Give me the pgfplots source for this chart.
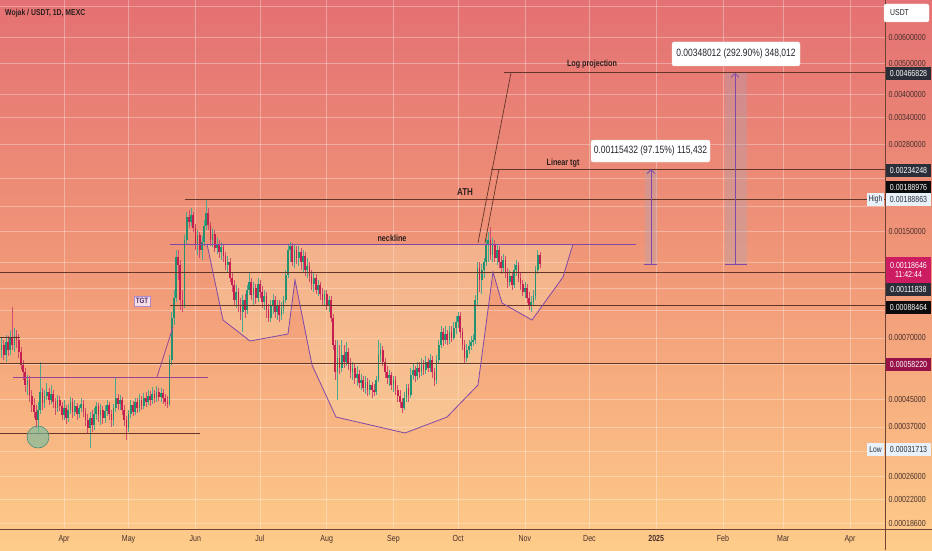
\documentclass[border=0pt]{standalone}
\usepackage{fontspec}
\setmainfont{Liberation Sans}
\usepackage{graphicx}
\usepackage{pgfplots}
\usepackage{pgfplotstable}
\pgfplotsset{compat=1.18}
\usetikzlibrary{arrows.meta,backgrounds}

\definecolor{bgtop}{RGB}{228,113,115}
\definecolor{bgmid}{RGB}{241,153,120}
\definecolor{bgbot}{RGB}{254,204,138}
\definecolor{upc}{RGB}{34,146,112}
\definecolor{dnc}{RGB}{198,30,78}
\definecolor{lvl}{RGB}{100,54,42}
\definecolor{purp}{RGB}{128,72,168}
\definecolor{purp2}{RGB}{150,70,150}
\definecolor{axtxt}{RGB}{72,48,44}
\definecolor{anntxt}{RGB}{45,30,30}
\definecolor{darkbox}{RGB}{42,46,57}
\definecolor{blackbox}{RGB}{12,12,14}
\definecolor{curbox}{RGB}{205,28,98}
\definecolor{magbox}{RGB}{150,18,72}
\definecolor{lightbox}{RGB}{232,240,250}
\definecolor{cupfill}{RGB}{250,222,172}
\definecolor{circfill}{RGB}{120,190,160}
\definecolor{circdraw}{RGB}{70,140,120}
\definecolor{sepc}{RGB}{110,66,52}
\definecolor{bandc}{RGB}{175,165,180}

\newcommand{\cz}[1]{\scalebox{0.8}[1]{#1}}
\newcommand{\fs}[1]{\fontsize{#1}{#1}\selectfont}

% daily candles: day index (0 = 1 Apr 2024), open, high, low, close (USDT)
\pgfplotstableread{
d o h l c
-29 6.418e-4 6.994e-4 6.061e-4 6.652e-4
-28 6.652e-4 6.894e-4 5.975e-4 6.192e-4
-27 6.192e-4 7.146e-4 5.890e-4 6.796e-4
-26 6.796e-4 7.095e-4 6.148e-4 6.418e-4
-25 6.418e-4 7.406e-4 6.192e-4 6.994e-4
-24 6.994e-4 8.731e-4 6.418e-4 6.652e-4
-23 6.652e-4 7.513e-4 6.327e-4 7.095e-4
-22 7.095e-4 7.406e-4 6.510e-4 6.894e-4
-21 6.894e-4 7.197e-4 6.061e-4 6.327e-4
-20 6.327e-4 6.557e-4 5.562e-4 5.765e-4
-19 5.765e-4 5.975e-4 5.178e-4 5.483e-4
-18 5.483e-4 5.642e-4 4.752e-4 4.996e-4
-17 4.996e-4 5.366e-4 4.651e-4 5.178e-4
-16 5.178e-4 5.328e-4 4.424e-4 4.618e-4
-15 4.618e-4 4.820e-4 4.118e-4 4.329e-4
-14 4.329e-4 4.552e-4 3.944e-4 4.118e-4
-13 4.118e-4 4.329e-4 3.672e-4 3.889e-4
-12 3.889e-4 4.424e-4 3.543e-4 4.177e-4
-11 4.177e-4 5.890e-4 4.059e-4 4.752e-4
-10 4.752e-4 4.890e-4 4.177e-4 4.392e-4
-9 4.392e-4 4.820e-4 4.237e-4 4.618e-4
-8 4.618e-4 5.068e-4 4.487e-4 4.752e-4
-7 4.752e-4 4.890e-4 4.329e-4 4.487e-4
-6 4.487e-4 4.996e-4 4.361e-4 4.684e-4
-5 4.684e-4 4.820e-4 4.237e-4 4.424e-4
-4 4.424e-4 4.552e-4 4.030e-4 4.237e-4
-3 4.237e-4 4.651e-4 4.118e-4 4.487e-4
-2 4.487e-4 4.618e-4 4.147e-4 4.298e-4
-1 4.298e-4 4.424e-4 3.889e-4 4.030e-4
0 4.030e-4 4.487e-4 3.889e-4 4.237e-4
1 4.237e-4 4.329e-4 3.779e-4 3.944e-4
2 3.944e-4 4.361e-4 3.833e-4 4.177e-4
3 4.177e-4 4.585e-4 4.059e-4 4.424e-4
4 4.424e-4 4.552e-4 3.944e-4 4.118e-4
5 4.118e-4 4.487e-4 4.001e-4 4.298e-4
6 4.298e-4 4.392e-4 3.889e-4 4.059e-4
7 4.059e-4 4.329e-4 3.944e-4 4.237e-4
8 4.237e-4 4.552e-4 4.118e-4 4.361e-4
9 4.361e-4 4.487e-4 3.973e-4 4.118e-4
10 4.118e-4 4.237e-4 3.725e-4 3.889e-4
11 3.889e-4 4.059e-4 3.518e-4 3.672e-4
12 3.672e-4 4.118e-4 3.1713e-4 3.944e-4
13 3.944e-4 4.177e-4 3.569e-4 3.752e-4
14 3.752e-4 4.237e-4 3.620e-4 4.059e-4
15 4.059e-4 4.424e-4 3.889e-4 4.298e-4
16 4.298e-4 4.392e-4 3.833e-4 4.030e-4
17 4.030e-4 4.361e-4 3.752e-4 4.177e-4
18 4.177e-4 4.298e-4 3.779e-4 3.944e-4
19 3.944e-4 4.329e-4 3.806e-4 4.147e-4
20 4.147e-4 4.487e-4 4.001e-4 4.329e-4
21 4.329e-4 4.424e-4 3.889e-4 4.059e-4
22 4.059e-4 4.177e-4 3.699e-4 3.889e-4
23 3.889e-4 4.361e-4 3.725e-4 4.237e-4
24 4.237e-4 5.290e-4 4.118e-4 4.552e-4
25 4.552e-4 4.684e-4 4.177e-4 4.361e-4
26 4.361e-4 4.651e-4 4.177e-4 4.487e-4
27 4.487e-4 4.585e-4 4.030e-4 4.177e-4
28 4.177e-4 4.329e-4 3.725e-4 3.889e-4
29 3.889e-4 4.001e-4 3.370e-4 3.672e-4
30 3.672e-4 4.177e-4 3.569e-4 4.059e-4
31 4.059e-4 4.487e-4 3.944e-4 4.329e-4
32 4.329e-4 4.455e-4 4.001e-4 4.118e-4
33 4.118e-4 4.552e-4 4.030e-4 4.424e-4
34 4.424e-4 4.552e-4 4.088e-4 4.237e-4
35 4.237e-4 4.684e-4 4.118e-4 4.487e-4
36 4.487e-4 4.618e-4 4.177e-4 4.298e-4
37 4.298e-4 4.718e-4 4.207e-4 4.552e-4
38 4.552e-4 4.752e-4 4.268e-4 4.424e-4
39 4.424e-4 4.820e-4 4.329e-4 4.618e-4
40 4.618e-4 4.786e-4 4.298e-4 4.487e-4
41 4.487e-4 4.925e-4 4.361e-4 4.684e-4
42 4.684e-4 4.820e-4 4.392e-4 4.552e-4
43 4.552e-4 4.960e-4 4.424e-4 4.752e-4
44 4.752e-4 4.890e-4 4.455e-4 4.585e-4
45 4.585e-4 4.890e-4 4.424e-4 4.718e-4
46 4.718e-4 4.855e-4 4.361e-4 4.552e-4
47 4.552e-4 4.684e-4 4.298e-4 4.424e-4
48 4.424e-4 4.618e-4 4.237e-4 4.361e-4
49 4.361e-4 6.192e-4 4.298e-4 5.975e-4
50 5.975e-4 8.425e-4 5.765e-4 8.070e-4
51 8.070e-4 9.861e-4 7.676e-4 9.312e-4
52 9.312e-4 13.130e-4 9.050e-4 12.488e-4
53 12.488e-4 13.130e-4 10.592e-4 11.793e-4
54 11.793e-4 12.223e-4 8.546e-4 9.180e-4
55 9.180e-4 9.861e-4 8.425e-4 8.857e-4
56 8.857e-4 14.618e-4 8.669e-4 14.104e-4
57 14.104e-4 17.234e-4 13.608e-4 16.628e-4
58 16.628e-4 17.482e-4 15.370e-4 16.044e-4
59 16.044e-4 17.735e-4 15.591e-4 16.868e-4
60 16.868e-4 17.234e-4 14.936e-4 15.370e-4
61 15.370e-4 15.816e-4 13.130e-4 13.608e-4
62 13.608e-4 15.151e-4 12.668e-4 14.618e-4
63 14.618e-4 14.936e-4 12.399e-4 13.130e-4
64 13.130e-4 14.514e-4 12.223e-4 13.904e-4
65 13.904e-4 16.275e-4 13.511e-4 15.591e-4
66 15.591e-4 18.8863e-4 15.151e-4 17.111e-4
67 17.111e-4 17.735e-4 15.151e-4 15.703e-4
68 15.703e-4 16.044e-4 13.511e-4 14.104e-4
69 14.104e-4 15.370e-4 13.415e-4 14.724e-4
70 14.724e-4 15.151e-4 12.944e-4 13.319e-4
71 13.319e-4 14.308e-4 12.760e-4 13.706e-4
72 13.706e-4 14.104e-4 12.399e-4 12.944e-4
73 12.944e-4 13.904e-4 12.223e-4 13.415e-4
74 13.415e-4 13.706e-4 12.049e-4 12.578e-4
75 12.578e-4 12.944e-4 11.378e-4 11.793e-4
76 11.793e-4 12.578e-4 11.216e-4 12.049e-4
77 12.049e-4 12.399e-4 10.441e-4 10.745e-4
78 10.745e-4 11.216e-4 9.721e-4 10.220e-4
79 10.220e-4 10.592e-4 8.857e-4 9.180e-4
80 9.180e-4 10.220e-4 8.669e-4 9.721e-4
81 9.721e-4 10.003e-4 8.425e-4 8.857e-4
82 8.857e-4 9.312e-4 7.955e-4 8.425e-4
83 8.425e-4 9.514e-4 7.301e-4 9.180e-4
84 9.180e-4 9.583e-4 8.070e-4 8.546e-4
85 8.546e-4 10.220e-4 8.305e-4 9.861e-4
86 9.861e-4 11.136e-4 9.514e-4 10.441e-4
87 10.441e-4 10.745e-4 9.180e-4 9.514e-4
88 9.514e-4 10.441e-4 8.857e-4 10.003e-4
89 10.003e-4 10.293e-4 8.921e-4 9.312e-4
90 9.312e-4 10.745e-4 9.050e-4 10.293e-4
91 10.293e-4 10.592e-4 9.312e-4 9.721e-4
92 9.721e-4 10.147e-4 8.669e-4 9.050e-4
93 9.050e-4 9.861e-4 8.546e-4 9.446e-4
94 9.446e-4 9.721e-4 8.070e-4 8.546e-4
95 8.546e-4 8.921e-4 7.842e-4 8.070e-4
96 8.070e-4 9.180e-4 7.842e-4 8.857e-4
97 8.857e-4 9.583e-4 8.305e-4 9.180e-4
98 9.180e-4 9.446e-4 8.070e-4 8.425e-4
99 8.425e-4 9.180e-4 7.955e-4 8.857e-4
100 8.857e-4 9.180e-4 7.842e-4 8.245e-4
101 8.245e-4 9.050e-4 7.955e-4 8.669e-4
102 8.669e-4 9.446e-4 8.305e-4 9.180e-4
103 9.180e-4 11.378e-4 8.985e-4 10.978e-4
104 10.978e-4 13.608e-4 10.745e-4 13.130e-4
105 13.130e-4 13.904e-4 12.049e-4 13.511e-4
106 13.511e-4 13.805e-4 11.709e-4 12.049e-4
107 12.049e-4 13.706e-4 11.543e-4 13.130e-4
108 13.130e-4 13.511e-4 11.878e-4 12.399e-4
109 12.399e-4 13.511e-4 11.709e-4 12.944e-4
110 12.944e-4 13.319e-4 11.378e-4 12.049e-4
111 12.049e-4 13.130e-4 11.216e-4 12.578e-4
112 12.578e-4 12.944e-4 10.900e-4 11.378e-4
113 11.378e-4 12.399e-4 10.745e-4 11.709e-4
114 11.709e-4 12.049e-4 10.441e-4 10.900e-4
115 10.900e-4 11.378e-4 9.861e-4 10.293e-4
116 10.293e-4 11.216e-4 9.721e-4 10.745e-4
117 10.745e-4 11.057e-4 9.583e-4 9.861e-4
118 9.861e-4 10.592e-4 9.446e-4 10.220e-4
119 10.220e-4 10.441e-4 9.180e-4 9.583e-4
120 9.583e-4 10.003e-4 8.794e-4 9.180e-4
121 9.180e-4 9.861e-4 8.794e-4 9.583e-4
122 9.583e-4 9.861e-4 8.546e-4 8.857e-4
123 8.857e-4 9.446e-4 8.425e-4 9.180e-4
124 9.180e-4 9.446e-4 7.842e-4 8.070e-4
125 8.070e-4 8.305e-4 6.418e-4 6.652e-4
126 6.652e-4 6.894e-4 5.178e-4 5.483e-4
127 5.483e-4 6.894e-4 4.487e-4 6.061e-4
128 6.061e-4 6.652e-4 5.405e-4 5.642e-4
129 5.642e-4 6.894e-4 5.483e-4 6.192e-4
130 6.192e-4 6.652e-4 5.642e-4 5.890e-4
131 5.890e-4 6.796e-4 5.724e-4 6.327e-4
132 6.327e-4 6.510e-4 5.562e-4 5.806e-4
133 5.806e-4 6.061e-4 5.252e-4 5.483e-4
134 5.483e-4 5.890e-4 5.178e-4 5.642e-4
135 5.642e-4 5.806e-4 5.032e-4 5.252e-4
136 5.252e-4 5.724e-4 4.960e-4 5.405e-4
137 5.405e-4 5.562e-4 4.890e-4 5.068e-4
138 5.068e-4 5.405e-4 4.820e-4 5.178e-4
139 5.178e-4 5.328e-4 4.752e-4 4.890e-4
140 4.890e-4 5.328e-4 4.684e-4 5.104e-4
141 5.104e-4 5.252e-4 4.618e-4 4.820e-4
142 4.820e-4 5.178e-4 4.651e-4 4.996e-4
143 4.996e-4 5.104e-4 4.552e-4 4.820e-4
144 4.820e-4 5.032e-4 4.618e-4 4.752e-4
145 4.752e-4 5.328e-4 4.651e-4 5.178e-4
146 5.178e-4 6.894e-4 5.104e-4 6.192e-4
147 6.192e-4 6.748e-4 5.890e-4 6.418e-4
148 6.418e-4 6.604e-4 5.724e-4 5.890e-4
149 5.890e-4 6.061e-4 5.252e-4 5.483e-4
150 5.483e-4 5.724e-4 5.032e-4 5.252e-4
151 5.252e-4 5.562e-4 4.960e-4 5.366e-4
152 5.366e-4 5.483e-4 4.820e-4 4.996e-4
153 4.996e-4 5.328e-4 4.752e-4 5.178e-4
154 5.178e-4 5.328e-4 4.651e-4 4.820e-4
155 4.820e-4 4.996e-4 4.424e-4 4.618e-4
156 4.618e-4 4.820e-4 4.237e-4 4.424e-4
157 4.424e-4 4.552e-4 4.088e-4 4.237e-4
158 4.237e-4 4.752e-4 4.177e-4 4.552e-4
159 4.552e-4 5.032e-4 4.424e-4 4.890e-4
160 4.890e-4 5.032e-4 4.424e-4 4.651e-4
161 4.651e-4 5.642e-4 4.552e-4 5.366e-4
162 5.366e-4 5.806e-4 5.178e-4 5.562e-4
163 5.562e-4 5.724e-4 5.104e-4 5.328e-4
164 5.328e-4 5.890e-4 5.178e-4 5.642e-4
165 5.642e-4 5.890e-4 5.252e-4 5.483e-4
166 5.483e-4 6.061e-4 5.328e-4 5.765e-4
167 5.765e-4 5.975e-4 5.366e-4 5.562e-4
168 5.562e-4 6.148e-4 5.405e-4 5.890e-4
169 5.890e-4 6.061e-4 5.483e-4 5.642e-4
170 5.642e-4 6.237e-4 5.483e-4 5.975e-4
171 5.975e-4 6.148e-4 5.252e-4 5.483e-4
172 5.483e-4 5.642e-4 4.960e-4 5.178e-4
173 5.178e-4 6.192e-4 5.032e-4 5.975e-4
174 5.975e-4 6.894e-4 5.806e-4 6.652e-4
175 6.652e-4 7.621e-4 6.510e-4 7.301e-4
176 7.301e-4 7.513e-4 6.604e-4 6.894e-4
177 6.894e-4 7.621e-4 6.700e-4 7.197e-4
178 7.197e-4 7.406e-4 6.652e-4 6.894e-4
179 6.894e-4 7.621e-4 6.700e-4 7.301e-4
180 7.301e-4 7.621e-4 6.796e-4 6.994e-4
181 6.994e-4 7.842e-4 6.894e-4 7.513e-4
182 7.513e-4 8.186e-4 7.197e-4 7.842e-4
183 7.842e-4 8.425e-4 7.513e-4 8.186e-4
184 8.186e-4 8.425e-4 6.994e-4 7.301e-4
185 7.301e-4 7.513e-4 6.418e-4 6.652e-4
186 6.652e-4 6.894e-4 5.806e-4 6.061e-4
187 6.061e-4 6.700e-4 5.890e-4 6.418e-4
188 6.418e-4 6.894e-4 6.237e-4 6.604e-4
189 6.604e-4 7.095e-4 6.418e-4 6.796e-4
190 6.796e-4 7.197e-4 6.604e-4 6.894e-4
191 6.894e-4 9.514e-4 6.700e-4 9.180e-4
192 9.180e-4 12.049e-4 8.857e-4 11.543e-4
193 11.543e-4 12.049e-4 9.721e-4 10.592e-4
194 10.592e-4 11.878e-4 9.583e-4 11.378e-4
195 11.378e-4 12.399e-4 10.745e-4 12.049e-4
196 12.049e-4 14.308e-4 11.709e-4 13.608e-4
197 13.608e-4 14.936e-4 12.049e-4 14.104e-4
198 14.104e-4 15.480e-4 12.223e-4 12.668e-4
199 12.668e-4 14.308e-4 12.049e-4 13.608e-4
200 13.608e-4 14.104e-4 12.049e-4 12.399e-4
201 12.399e-4 13.706e-4 11.793e-4 13.130e-4
202 13.130e-4 13.511e-4 11.543e-4 12.049e-4
203 12.049e-4 12.578e-4 11.057e-4 11.543e-4
204 11.543e-4 12.760e-4 11.216e-4 12.223e-4
205 12.223e-4 12.578e-4 10.745e-4 11.216e-4
206 11.216e-4 11.543e-4 10.003e-4 10.441e-4
207 10.441e-4 11.378e-4 10.147e-4 10.900e-4
208 10.900e-4 11.216e-4 9.861e-4 10.220e-4
209 10.220e-4 11.878e-4 10.003e-4 11.378e-4
210 11.378e-4 12.223e-4 10.900e-4 11.793e-4
211 11.793e-4 12.049e-4 10.441e-4 10.745e-4
212 10.745e-4 11.216e-4 9.861e-4 10.293e-4
213 10.293e-4 10.592e-4 9.446e-4 9.721e-4
214 9.721e-4 10.441e-4 9.312e-4 10.003e-4
215 10.003e-4 10.293e-4 8.985e-4 9.312e-4
216 9.312e-4 9.721e-4 8.546e-4 8.794e-4
217 8.794e-4 9.446e-4 8.425e-4 9.050e-4
218 9.050e-4 9.861e-4 8.794e-4 9.446e-4
219 9.446e-4 11.709e-4 9.180e-4 11.378e-4
220 11.378e-4 13.130e-4 11.057e-4 12.668e-4
221 12.668e-4 12.944e-4 11.543e-4 11.8646e-4
}\candles

\pgfplotsset{
  lv/.style={lvl, line width=1pt},
  table/pt/.style={row sep=\\, x=d, y expr=log10(\thisrow{p})},
  candle/.style n args={2}{draw=none, mark=none, forget plot,
    error bars/y dir=both, error bars/y explicit, error bars/error mark=none,
    error bars/error bar style={draw=#1, line width=#2, solid}},
}

\begin{document}
\begin{tikzpicture}[x=1pt,y=1pt]
\begin{axis}[
  name=ax, scale only axis, width=885pt, height=529pt,
  xmin=-29.72, xmax=381.26, ymin=-3.749048, ymax=-2.104659,
  axis line style={draw=none}, tick style={draw=none},
  grid=major, major grid style={white, opacity=0.32, line width=0.6pt},
  xtick={0,30,61,91,122,153,183,214,244,275,306,334,365},
  xticklabels={\cz{Apr},\cz{May},\cz{Jun},\cz{Jul},\cz{Aug},\cz{Sep},\cz{Oct},\cz{Nov},\cz{Dec},\cz{\bfseries 2025},\cz{Feb},\cz{Mar},\cz{Apr}},
  xticklabel style={font=\fs{8.8}, text=axtxt, yshift=-3pt},
  ytick={-2.221849,-2.301030,-2.397940,-2.468521,-2.552842,-2.823909,-3.154902,-3.346787,-3.431798,-3.585027,-3.657577,-3.730487},
  yticklabels={\cz{0.00600000},\cz{0.00500000},\cz{0.00400000},\cz{0.00340000},\cz{0.00280000},\cz{0.00150000},\cz{0.00070000},\cz{0.00045000},\cz{0.00037000},\cz{0.00026000},\cz{0.00022000},\cz{0.00018600}},
  yticklabel pos=right,
  yticklabel style={font=\fs{8.8}, text=axtxt},
  extra y ticks={-2.124939,-2.657577,-2.744727,-2.920819,-3,-3.070581,-3.236572,-3.508638},
  extra y tick labels={},
  extra y tick style={grid=major},
]
\coordinate (O) at (rel axis cs:0,0);
% cup & handle area
\addplot[fill=cupfill, fill opacity=0.4, draw=none] table[pt] {d p\\
66.41 13.706e-4\\ 73.84 7.955e-4\\ 86.38 6.845e-4\\ 104.02 7.197e-4\\ 107.27 10.592e-4\\
115.17 5.765e-4\\ 126.31 3.973e-4\\ 158.36 3.543e-4\\ 177.86 3.973e-4\\ 192.25 4.996e-4\\
199.22 11.216e-4\\ 203.40 8.985e-4\\ 217.33 7.955e-4\\ 231.73 10.822e-4\\ 236.37 13.706e-4\\ 66.41 13.706e-4\\};
% measure bands
\addplot[fill=bandc, fill opacity=0.35, draw=none] table[pt] {d p\\ 269.8 0.00118816\\ 275.4 0.00118816\\ 275.4 0.00234248\\ 269.8 0.00234248\\};
\addplot[fill=bandc, fill opacity=0.35, draw=none] table[pt] {d p\\ 307.0 0.00118816\\ 317.2 0.00118816\\ 317.2 0.00466828\\ 307.0 0.00466828\\};

% candles: wicks
\addplot[candle={upc!80!white}{0.6pt}, restrict expr to domain={\thisrow{c}-\thisrow{o}}{0:1}]
  table[x=d, y expr={0.5*(log10(\thisrow{h})+log10(\thisrow{l}))}, y error expr={0.5*(log10(\thisrow{h})-log10(\thisrow{l}))}] {\candles};
\addplot[candle={dnc!80!white}{0.6pt}, restrict expr to domain={\thisrow{c}-\thisrow{o}}{-1:0}]
  table[x=d, y expr={0.5*(log10(\thisrow{h})+log10(\thisrow{l}))}, y error expr={0.5*(log10(\thisrow{h})-log10(\thisrow{l}))}] {\candles};
% candles: bodies
\addplot[candle={upc}{1.7pt}, restrict expr to domain={\thisrow{c}-\thisrow{o}}{0:1}]
  table[x=d, y expr={0.5*(log10(\thisrow{o})+log10(\thisrow{c}))}, y error expr={0.5*(log10(\thisrow{c})-log10(\thisrow{o}))}] {\candles};
\addplot[candle={dnc}{1.7pt}, restrict expr to domain={\thisrow{c}-\thisrow{o}}{-1:0}]
  table[x=d, y expr={0.5*(log10(\thisrow{o})+log10(\thisrow{c}))}, y error expr={0.5*(log10(\thisrow{o})-log10(\thisrow{c}))}] {\candles};

% horizontal levels
\addplot[lv] table[pt] {d p\\ -29.72 0.00111838\\ 381.26 0.00111838\\};
\addplot[lv] table[pt] {d p\\ -29.72 0.0005822\\ 381.26 0.0005822\\};
\addplot[lv] table[pt] {d p\\ 49.22 0.00088464\\ 381.26 0.00088464\\};
\addplot[lv] table[pt] {d p\\ 56.19 0.00188976\\ 381.26 0.00188976\\};
\addplot[lv] table[pt] {d p\\ 198.3 0.00234248\\ 381.26 0.00234248\\};
\addplot[lv] table[pt] {d p\\ 204.3 0.00466828\\ 381.26 0.00466828\\};
\addplot[lv] table[pt] {d p\\ -29.72 3.543e-4\\ 63.16 3.543e-4\\};
\addplot[lv] table[pt] {d p\\ -29.72 7.044e-4\\ -20.43 7.044e-4\\};
\addplot[purp2, line width=0.9pt] table[pt] {d p\\ -23.68 5.290e-4\\ 66.87 5.290e-4\\};
\addplot[purp2, line width=0.8pt] table[pt] {d p\\ 43.19 5.290e-4\\ 50.62 7.567e-4\\};
% neckline and cup outline
\addplot[purp, line width=0.9pt] table[pt] {d p\\ 49.22 13.706e-4\\ 265.6 13.706e-4\\};
\addplot[purp, line width=0.8pt] table[pt] {d p\\
66.41 13.706e-4\\ 73.84 7.955e-4\\ 86.38 6.845e-4\\ 104.02 7.197e-4\\ 107.27 10.592e-4\\
115.17 5.765e-4\\ 126.31 3.973e-4\\ 158.36 3.543e-4\\ 177.86 3.973e-4\\ 192.25 4.996e-4\\
199.22 11.216e-4\\ 203.40 8.985e-4\\ 217.33 7.955e-4\\ 231.73 10.822e-4\\ 236.37 13.706e-4\\};
% projection diagonals
\addplot[lvl, line width=0.7pt] table[pt] {d p\\ 192.25 13.805e-4\\ 207.58 0.00466828\\};
\addplot[lvl, line width=0.7pt] table[pt] {d p\\ 195.5 13.805e-4\\ 202.0 0.00234248\\};
% measure arrows
\addplot[purp, line width=0.8pt, -{Straight Barb[length=4pt,width=8pt]}] table[pt] {d p\\ 272.6 0.00118816\\ 272.6 0.00234248\\};
\addplot[purp, line width=0.8pt] table[pt] {d p\\ 269.3 0.00118816\\ 275.4 0.00118816\\};
\addplot[purp, line width=0.8pt, -{Straight Barb[length=4pt,width=8pt]}] table[pt] {d p\\ 311.6 0.00118816\\ 311.6 0.00466828\\};
\addplot[purp, line width=0.8pt] table[pt] {d p\\ 307.0 0.00118816\\ 317.2 0.00118816\\};
% highlighted low
\addplot[only marks, mark=*, mark size=11pt, mark options={fill=circfill, fill opacity=0.65, draw=circdraw, line width=0.6pt}] table[pt] {d p\\ -12.07 3.443e-4\\};
\end{axis}

\begin{scope}[shift={(O)}, yshift=-21pt]
\begin{scope}[on background layer]
\shade[top color=bgtop, bottom color=bgbot, middle color=bgmid] (0,0) rectangle (932,550);
\end{scope}
% separators
\draw[sepc, line width=0.7pt] (885,0) -- (885,550);
\draw[sepc, line width=0.7pt] (0,21) -- (932,21);

% title
\node[anchor=west, text=anntxt, font=\fs{8.6}\bfseries, inner sep=0pt] at (5,537) {\cz{Wojak / USDT, 1D, MEXC}};

% annotations
\node[text=anntxt, font=\fs{9}\bfseries, inner sep=0pt] at (392,312) {\cz{neckline}};
\node[text=anntxt, font=\fs{9}\bfseries, inner sep=0pt] at (563,387) {\cz{Linear tgt}};
\node[text=anntxt, font=\fs{9}\bfseries, inner sep=0pt] at (592,486) {\cz{Log projection}};
\node[text=anntxt, font=\fs{10}\bfseries, inner sep=0pt] at (465,358) {\cz{ATH}};
\node[draw={rgb,255:red,175;green,140;blue,205}, fill={rgb,255:red,244;green,222;blue,228}, text={rgb,255:red,80;green,40;blue,110}, font=\fs{7.8}\bfseries, inner xsep=2pt, inner ysep=2pt, line width=0.5pt] at (142,249) {\cz{TGT}};
\node[fill=white, draw=black!12, rounded corners=2pt, text={rgb,255:red,35;green,35;blue,45}, font=\fs{10.6}, minimum width=119pt, minimum height=22pt, inner sep=0pt] at (650.5,399) {\cz{0.00115432 (97.15\%) 115,432}};
\node[fill=white, draw=black!12, rounded corners=2pt, text={rgb,255:red,35;green,35;blue,45}, font=\fs{10.6}, minimum width=128pt, minimum height=24pt, inner sep=0pt] at (736,496) {\cz{0.00348012 (292.90\%) 348,012}};

% price scale boxes
\node[fill=white, draw=black!10, rounded corners=2pt, minimum width=45pt, minimum height=18pt, inner sep=0pt] at (906.5,537) {};
\node[anchor=west, text={rgb,255:red,35;green,35;blue,45}, font=\fs{8.6}, inner sep=0pt] at (890,537) {\cz{USDT}};
\newcommand{\pbox}[4]{\node[fill=#2, text=#3, font=\fs{8.8}, minimum width=45pt, minimum height=13pt, inner sep=0pt] at (908.5,#1) {\cz{#4}};}
\pbox{476.5}{darkbox}{white}{0.00466828}
\pbox{380}{darkbox}{white}{0.00234248}
\pbox{362.5}{blackbox}{white}{0.00188976}
\pbox{350.5}{lightbox}{darkbox}{0.00188863}
\pbox{260.5}{darkbox}{white}{0.00111838}
\pbox{243}{blackbox}{white}{0.00088464}
\pbox{185.5}{magbox}{white}{0.00058220}
\pbox{100.5}{lightbox}{darkbox}{0.00031713}
\node[fill=curbox, text=white, font=\fs{8.8}, minimum width=45pt, minimum height=26pt, inner sep=0pt, align=center] at (908.5,280) {\cz{0.00118646}\\[1pt]\cz{11:42:44}};
\node[fill=lightbox, text=darkbox, font=\fs{8.4}, minimum width=17pt, minimum height=13pt, inner sep=0pt] at (875.5,350.5) {\cz{High}};
\node[fill=lightbox, text=darkbox, font=\fs{8.4}, minimum width=17pt, minimum height=13pt, inner sep=0pt] at (875.5,100.5) {\cz{Low}};
\pgfresetboundingbox
\path[use as bounding box] (0,0) rectangle (932,550);
\end{scope}
\end{tikzpicture}
\end{document}
